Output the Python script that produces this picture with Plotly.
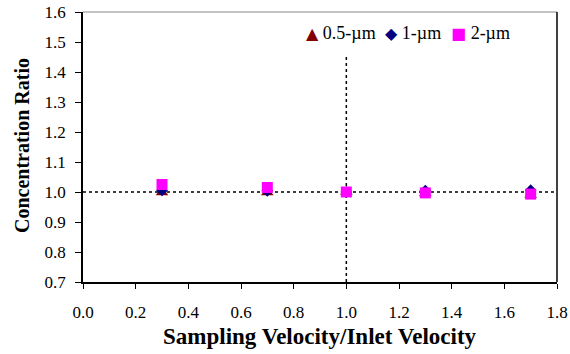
import plotly.graph_objects as go

x_vals = [0.3, 0.7, 1.0, 1.3, 1.7]
ratio_05um = [0.998, 0.998, 1.0, 0.995, 0.99]
ratio_1um = [1.005, 1.004, 1.0, 1.005, 1.006]
ratio_2um = [1.025, 1.015, 1.0, 0.997, 0.993]
series_names = ["0.5-µm", "1-µm", "2-µm"]
series_colors = ["#800000", "#000080", "#FF00FF"]
legend_glyphs = ["▲", "◆", "■"]
x_ticks = [0.0, 0.2, 0.4, 0.6, 0.8, 1.0, 1.2, 1.4, 1.6, 1.8]
y_ticks = [0.7, 0.8, 0.9, 1.0, 1.1, 1.2, 1.3, 1.4, 1.5, 1.6]

font_family = "Liberation Serif, Times New Roman, serif"

fig = go.Figure()
fig.add_trace(go.Scatter(x=x_vals, y=ratio_05um, mode="markers", name=series_names[0],
                         marker=dict(symbol="triangle-up", size=11, color=series_colors[0])))
fig.add_trace(go.Scatter(x=x_vals, y=ratio_1um, mode="markers", name=series_names[1],
                         marker=dict(symbol="diamond", size=9, color=series_colors[1])))
fig.add_trace(go.Scatter(x=x_vals, y=ratio_2um, mode="markers", name=series_names[2],
                         marker=dict(symbol="square", size=11, color=series_colors[2])))

# reference lines
fig.add_shape(type="line", xref="x", yref="y", x0=0, x1=1.8, y0=1.0, y1=1.0,
              line=dict(color="black", width=1.5, dash="dot"), layer="below")
fig.add_shape(type="line", xref="x", yref="y", x0=1.0, x1=1.0, y0=0.7, y1=1.453,
              line=dict(color="black", width=1.5, dash="dot"), layer="below")
# frame: gray top, black right
fig.add_shape(type="line", xref="paper", yref="paper", x0=0, x1=1, y0=1, y1=1,
              line=dict(color="#888888", width=1))
fig.add_shape(type="line", xref="paper", yref="paper", x0=1, x1=1, y0=0, y1=1,
              line=dict(color="black", width=1.5))

# compact legend (symbol directly followed by label)
legend_x = [0.466, 0.633, 0.772]
for name, color, glyph, lx in zip(series_names, series_colors, legend_glyphs, legend_x):
    fig.add_annotation(
        text=f"<span style='color:{color};font-size:16px;font-family:DejaVu Sans'>{glyph}</span> {name}",
        xref="paper", yref="paper", x=lx, y=0.922, xanchor="left", yanchor="middle",
        showarrow=False, font=dict(size=18))

# axis titles as annotations for exact placement
fig.add_annotation(text="<b>Sampling Velocity/Inlet Velocity</b>", xref="paper", yref="paper",
                   x=0.5, y=-0.2, yanchor="middle", xanchor="center", showarrow=False,
                   font=dict(size=23))
fig.add_annotation(text="<b>Concentration Ratio</b>", xref="paper", yref="paper",
                   x=-0.13, y=0.505, xanchor="center", yanchor="middle", textangle=-90,
                   showarrow=False, font=dict(size=20))

fig.update_layout(
    width=570, height=354,
    margin=dict(l=83, r=13, t=12, b=72, autoexpand=False),
    plot_bgcolor="white", paper_bgcolor="white",
    font=dict(family=font_family, size=17, color="black"),
    showlegend=False,
    xaxis=dict(range=[0, 1.8], tickvals=x_ticks, ticktext=[f"{v:.1f}" for v in x_ticks],
               showgrid=False, zeroline=False, showline=True, linecolor="black", linewidth=1.5,
               ticks="outside", ticklen=5, tickcolor="black", automargin=False,
               ticklabelstandoff=9),
    yaxis=dict(range=[0.7, 1.6], tickvals=y_ticks, ticktext=[f"{v:.1f}" for v in y_ticks],
               showgrid=False, zeroline=False, showline=True, linecolor="black", linewidth=1.5,
               ticks="outside", ticklen=6, tickcolor="black", automargin=False,
               ticklabelstandoff=6),
)

fig.write_html("out.html")
